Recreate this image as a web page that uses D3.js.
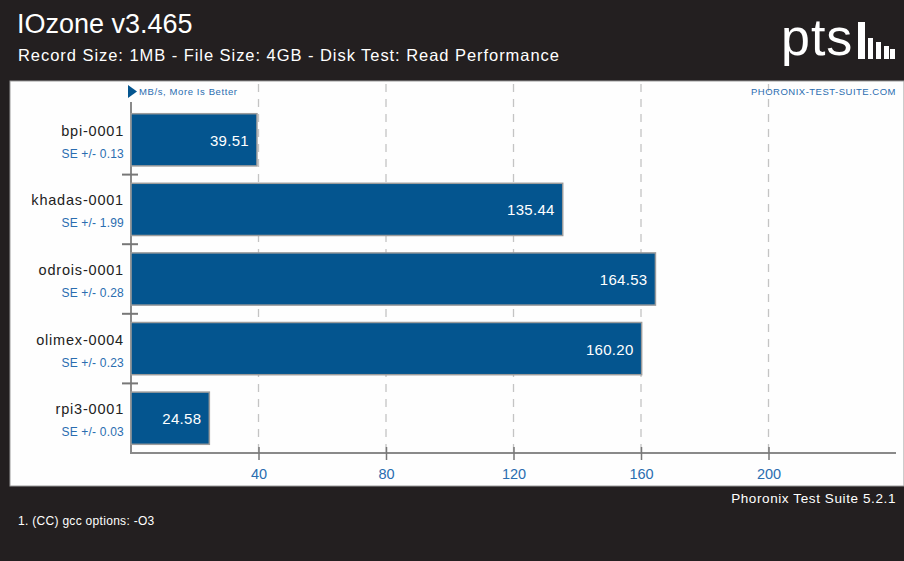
<!DOCTYPE html>
<html>
<head>
<meta charset="utf-8">
<script src="https://cdn.jsdelivr.net/npm/d3@7"></script>
<style>
  body { margin: 0; background: #231f20; }
  svg { display: block; font-family: "Liberation Sans", Arial, sans-serif; }
</style>
</head>
<body>
<svg id="chart" width="904" height="561"></svg>
<script>
// donnees
const systemes = ["bpi-0001", "khadas-0001", "odrois-0001", "olimex-0004", "rpi3-0001"];
const valeurs = [39.51, 135.44, 164.53, 160.20, 24.58];
const erreurs = ["0.13", "1.99", "0.28", "0.23", "0.03"];
const graduations = [40, 80, 120, 160, 200];

const svg = d3.select("#chart");
const fond = "#231f20";
const bleu = "#04558f";
const bleuTexte = "#2a6db0";

svg.append("rect").attr("width", 904).attr("height", 561).attr("fill", fond);

// zone blanche du graphique
svg.append("rect")
    .attr("x", 10).attr("y", 81)
    .attr("width", 894).attr("height", 405)
    .attr("fill", "#fefefe")
    .attr("stroke", "#9a9a9a").attr("stroke-width", 1);

// entete
svg.append("text").attr("x", 17).attr("y", 33)
    .attr("fill", "#fff").style("font-size", "27px")
    .text("IOzone v3.465");
svg.append("text").attr("x", 18).attr("y", 61)
    .attr("fill", "#fff").style("font-size", "16.5px").style("letter-spacing", "0.95px")
    .text("Record Size: 1MB - File Size: 4GB - Disk Test: Read Performance");

// logo pts
svg.append("text").attr("x", 781).attr("y", 55)
    .attr("fill", "#fff").style("font-size", "52px").style("letter-spacing", "1px")
    .text("pts");
svg.append("rect").attr("x", 858).attr("y", 22).attr("width", 7).attr("height", 37).attr("fill", "#fff");
[[868, 38], [876, 42], [884, 46], [890, 49]].forEach(b => {
    svg.append("rect").attr("x", b[0]).attr("y", b[1]).attr("width", 5).attr("height", 59 - b[1]).attr("fill", "#fff");
});

const x = d3.scaleLinear().domain([0, 240]).range([131, 896]);
const y = d3.scaleBand().domain(systemes).range([105, 453]).paddingInner(0.25).paddingOuter(0.125);

// grille pointillee
svg.append("g").selectAll("line").data(graduations).join("line")
    .attr("x1", d => x(d)).attr("x2", d => x(d))
    .attr("y1", 84).attr("y2", 453)
    .attr("stroke", "#c4c4c4").attr("stroke-width", 1.3)
    .attr("stroke-dasharray", "8,7");

// axe du bas
const axeX = svg.append("g").attr("transform", "translate(0,453)")
    .call(d3.axisBottom(x).tickValues(graduations).tickSize(7).tickPadding(9));
axeX.select(".domain").attr("stroke", "#8a8a8a").attr("stroke-width", 2).attr("d", "M131,0H896");
axeX.selectAll(".tick line").attr("stroke", "#777").attr("stroke-width", 1.5).attr("y1", -6);
axeX.selectAll(".tick text").attr("fill", bleuTexte).style("font-size", "14.5px")
    .style("font-family", "Liberation Sans, Arial, sans-serif");

// axe vertical et separateurs
svg.append("line").attr("x1", 131).attr("x2", 131).attr("y1", 102).attr("y2", 454)
    .attr("stroke", "#8a8a8a").attr("stroke-width", 2);
const separations = systemes.slice(1).map(s => y(s) - y.step() * y.paddingInner() / 2);
svg.append("g").selectAll("line").data(separations).join("line")
    .attr("x1", 122).attr("x2", 138)
    .attr("y1", d => d).attr("y2", d => d)
    .attr("stroke", "#777").attr("stroke-width", 2);

// legende du haut
svg.append("path").attr("d", "M128,85L137,91.5L128,98Z").attr("fill", bleu);
svg.append("text").attr("x", 139).attr("y", 95)
    .attr("fill", bleuTexte).style("font-size", "9.5px").style("letter-spacing", "0.6px")
    .text("MB/s, More Is Better");
svg.append("text").attr("x", 896).attr("y", 95).attr("text-anchor", "end")
    .attr("fill", bleuTexte).style("font-size", "9.5px").style("letter-spacing", "0.5px")
    .text("PHORONIX-TEST-SUITE.COM");

// barres
svg.append("g").selectAll("rect").data(valeurs).join("rect")
    .attr("x", x(0))
    .attr("y", (d, i) => y(systemes[i]))
    .attr("width", d => x(d) - x(0))
    .attr("height", y.bandwidth())
    .attr("fill", bleu)
    .attr("stroke", "#9c9c9c").attr("stroke-width", 1.5);

svg.append("g").selectAll("text").data(valeurs).join("text")
    .attr("x", d => x(d) - 8)
    .attr("y", (d, i) => y(systemes[i]) + y.bandwidth() / 2 + 6)
    .attr("text-anchor", "end")
    .attr("fill", "#fff").style("font-size", "15px").style("letter-spacing", "0.3px")
    .text(d => d.toFixed(2));

// etiquettes des systemes
svg.append("g").selectAll("text").data(systemes).join("text")
    .attr("x", 124)
    .attr("y", d => y(d) + y.bandwidth() / 2 - 4)
    .attr("text-anchor", "end")
    .attr("fill", "#222").style("font-size", "14.5px").style("letter-spacing", "0.8px")
    .text(d => d);

svg.append("g").selectAll("text").data(erreurs).join("text")
    .attr("x", 124)
    .attr("y", (d, i) => y(systemes[i]) + y.bandwidth() / 2 + 18)
    .attr("text-anchor", "end")
    .attr("fill", bleuTexte).style("font-size", "12px").style("letter-spacing", "0.2px")
    .text(d => "SE +/- " + d);

// pied de page
svg.append("text").attr("x", 896).attr("y", 503).attr("text-anchor", "end")
    .attr("fill", "#fff").style("font-size", "13.5px").style("letter-spacing", "0.6px")
    .text("Phoronix Test Suite 5.2.1");
svg.append("text").attr("x", 18).attr("y", 525)
    .attr("fill", "#fff").style("font-size", "12px").style("letter-spacing", "0.3px")
    .text("1. (CC) gcc options: -O3");
</script>
</body>
</html>
